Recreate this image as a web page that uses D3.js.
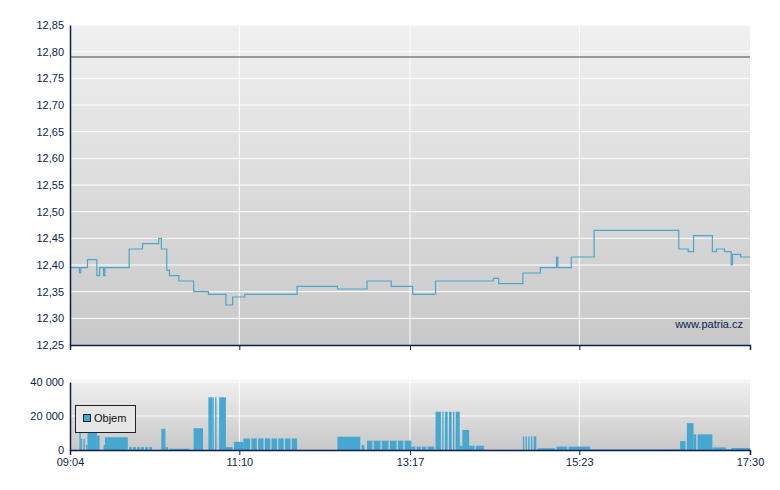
<!DOCTYPE html>
<html><head><meta charset="utf-8">
<script src="https://cdn.jsdelivr.net/npm/d3@7"></script>
<style>body{margin:0;background:#fff}text{font-family:"Liberation Sans",Arial,sans-serif;font-size:11px;fill:#0a1f4d}</style>
</head><body><svg id="c" width="780" height="490"></svg>
<script>
const priceTimes=["09:04","09:11","09:12","09:17","09:24","09:26","09:29","09:30","09:48","09:58","10:10","10:12","10:16","10:18","10:25","10:36","10:47","11:00","11:05","11:14","11:53","12:23","12:45","13:03","13:19","13:36","14:19","14:23","14:41","14:54","15:06","15:07","15:17","15:34","16:37","16:44","16:48","17:02","17:05","17:11","17:16","17:17","17:23","17:30"];
const priceValues=[12.395,12.385,12.395,12.41,12.38,12.395,12.38,12.395,12.43,12.44,12.45,12.43,12.39,12.38,12.37,12.35,12.345,12.325,12.34,12.345,12.36,12.355,12.37,12.36,12.345,12.37,12.375,12.365,12.385,12.395,12.415,12.395,12.415,12.465,12.43,12.425,12.455,12.425,12.43,12.425,12.40,12.42,12.415,12.415];
const prevClose=12.79;
// volume segments: start, end (HH:MM), volume
const volStart=["09:11","09:12","09:14","09:16","09:17","09:24","09:29","09:30","09:48","09:51","09:54","09:57","10:00","10:03","10:12","10:14","10:15","10:18","10:36","10:47","10:50","10:52","10:55","11:00","11:06","11:13","11:19","11:24","11:29","11:34","11:39","11:44","11:49","12:23","12:41","12:45","12:50","12:56","13:02","13:08","13:13","13:18","13:22","13:26","13:30","13:36","13:41","13:43","13:46","13:49","13:51","13:54","13:56","14:01","14:06","14:41","14:43","14:45","14:47","14:49","14:52","15:06","15:15","15:31","16:38","16:43","16:48","16:51","17:02","17:12","17:16"];
const volEnd=["09:12","09:13","09:15","09:17","09:24","09:26","09:30","09:47","09:50","09:53","09:56","09:59","10:02","10:05","10:14","10:15","10:17","10:33","10:43","10:50","10:51","10:53","11:00","11:05","11:13","11:18","11:23","11:28","11:33","11:38","11:43","11:48","11:53","12:40","12:43","12:49","12:55","13:01","13:07","13:12","13:18","13:21","13:25","13:29","13:35","13:40","13:42","13:45","13:48","13:50","13:54","13:56","14:01","14:05","14:12","14:42","14:44","14:46","14:48","14:51","15:05","15:14","15:31","16:38","16:42","16:48","16:50","17:02","17:12","17:16","17:30"];
const volValues=[10000,6500,6500,3000,10500,8500,3000,7500,1700,1700,1700,1700,1700,1700,12500,12500,1700,700,12800,31000,31000,31000,31000,1700,4800,6800,6800,6800,6800,6800,6800,6800,6800,7800,2900,5500,5500,5500,5500,5500,5500,2000,2000,2000,2000,22500,22500,22500,22500,22500,22500,2500,11800,2500,2500,8000,8000,8000,8000,8000,1000,2000,2000,400,5200,15800,9200,9200,1500,400,1200];
const priceTicks=d3.range(12.25,12.851,0.05);
const volTicks=[0,20000,40000];
const xTickLabels=["09:04","11:10","13:17","15:23","17:30"];

const svg=d3.select("#c");
const pt=d3.timeParse("%H:%M");
const L=70,R=750;
const x=d3.scaleTime().domain([pt("09:04"),pt("17:30")]).range([L,R]);
const y=d3.scaleLinear().domain([12.25,12.85]).range([345,25]);
const yv=d3.scaleLinear().domain([0,40000]).range([450,382]);
const defs=svg.append("defs");
const g=defs.append("linearGradient").attr("id","bg").attr("x1",0).attr("x2",0).attr("y1",0).attr("y2",1);
g.append("stop").attr("offset",0).attr("stop-color","#f0f0f0");
g.append("stop").attr("offset",1).attr("stop-color","#c8c8c8");
svg.append("rect").attr("x",L).attr("y",25).attr("width",R-L).attr("height",320).attr("fill","url(#bg)");
svg.append("rect").attr("x",L).attr("y",380).attr("width",R-L).attr("height",70).attr("fill","url(#bg)");
const xt=xTickLabels.map(pt);
svg.append("g").selectAll("line").data(priceTicks.slice(1)).join("line").attr("x1",L).attr("x2",R).attr("y1",d=>y(d)).attr("y2",d=>y(d)).attr("stroke","#fff");
svg.append("g").selectAll("line").data(xt.slice(1,4)).join("line").attr("x1",d=>x(d)).attr("x2",d=>x(d)).attr("y1",25).attr("y2",345).attr("stroke","#fff");
svg.append("g").selectAll("line").data(volTicks.slice(1)).join("line").attr("x1",L).attr("x2",R).attr("y1",d=>yv(d)).attr("y2",d=>yv(d)).attr("stroke","#fff");
svg.append("g").selectAll("line").data(xt.slice(1,4)).join("line").attr("x1",d=>x(d)).attr("x2",d=>x(d)).attr("y1",380).attr("y2",450).attr("stroke","#fff");
svg.append("line").attr("x1",L).attr("x2",R).attr("y1",y(prevClose)).attr("y2",y(prevClose)).attr("stroke","#444");
const pdata=priceTimes.map((t,i)=>[pt(t),priceValues[i]]);
svg.append("path").datum(pdata).attr("fill","none").attr("stroke","#4aa6cf").attr("stroke-width",1.2)
 .attr("d",d3.line().x(d=>x(d[0])).y(d=>y(d[1])).curve(d3.curveStepAfter));
svg.append("text").attr("x",743).attr("y",328).attr("text-anchor","end").text("www.patria.cz");
svg.append("g").selectAll("rect").data(volValues).join("rect")
 .attr("x",(d,i)=>x(pt(volStart[i]))).attr("width",(d,i)=>Math.max(1,x(pt(volEnd[i]))-x(pt(volStart[i]))))
 .attr("y",d=>yv(d)).attr("height",d=>450-yv(d)).attr("fill","#46a7d0");
const ya=svg.append("g").attr("transform",`translate(${L},0)`).call(d3.axisLeft(y).tickValues(priceTicks).tickSize(0).tickPadding(6).tickFormat(d=>d.toFixed(2).replace(".",",")));
const yva=svg.append("g").attr("transform",`translate(${L},0)`).call(d3.axisLeft(yv).tickValues(volTicks).tickSize(0).tickPadding(6).tickFormat(d=>d3.format(",")(d).replace(/,/g," ")));
const xa1=svg.append("g").attr("transform","translate(0,345)").call(d3.axisBottom(x).tickValues(xt).tickSize(5).tickFormat(""));
const xa2=svg.append("g").attr("transform","translate(0,450)").call(d3.axisBottom(x).tickValues(xt).tickSize(5).tickPadding(3).tickFormat(d3.timeFormat("%H:%M")));
[ya,yva,xa1,xa2].forEach(a=>{a.select(".domain").attr("stroke","#0a1f4d").attr("stroke-width",1.5);a.selectAll("line").attr("stroke","#0a1f4d");a.selectAll("text").attr("fill","#0a1f4d").style("font-size","11px").style("font-family","Liberation Sans, Arial");});
svg.append("rect").attr("x",75.5).attr("y",405.5).attr("width",60).attr("height",27).attr("fill","#e6e6e6").attr("stroke","#222");
svg.append("rect").attr("x",83.5).attr("y",414.5).attr("width",7).attr("height",7).attr("fill","#46a7d0").attr("stroke","#222");
svg.append("text").attr("x",94).attr("y",422).style("fill","#111").text("Objem");
</script></body></html>
